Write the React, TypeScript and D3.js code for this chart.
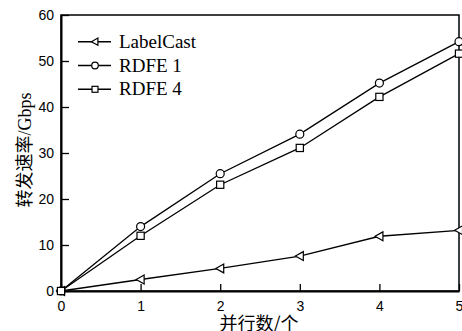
import { useEffect, useRef } from "react";
import * as d3 from "d3";

const WIDTH = 462;
const HEIGHT = 331;
const MARGIN = { top: 15, right: 3, bottom: 40, left: 61 };

const parallel = [0, 1, 2, 3, 4, 5];
const labelCast = [0, 2.5, 4.9, 7.6, 11.9, 13.2];
const rdfe1 = [0, 14.0, 25.5, 34.1, 45.2, 54.2];
const rdfe4 = [0, 12.0, 23.1, 31.1, 42.2, 51.6];
const yTicks = [0, 10, 20, 30, 40, 50, 60];

const SERIES = [
  { name: "LabelCast", values: labelCast, marker: "triangle" },
  { name: "RDFE 1", values: rdfe1, marker: "circle" },
  { name: "RDFE 4", values: rdfe4, marker: "square" }
];

function drawMarker(g: any, kind: string, cx: number, cy: number, size: number) {
  if (kind === "circle") {
    g.append("circle").attr("cx", cx).attr("cy", cy).attr("r", size)
      .attr("fill", "#fff").attr("stroke", "#000").attr("stroke-width", 1.2);
  } else if (kind === "square") {
    const h = size * 0.9;
    g.append("rect").attr("x", cx - h).attr("y", cy - h).attr("width", h * 2).attr("height", h * 2)
      .attr("fill", "#fff").attr("stroke", "#000").attr("stroke-width", 1.2);
  } else {
    const s = size * 1.1;
    g.append("path")
      .attr("d", `M${cx - s},${cy} L${cx + s * 0.8},${cy - s} L${cx + s * 0.8},${cy + s} Z`)
      .attr("fill", "#fff").attr("stroke", "#000").attr("stroke-width", 1.2);
  }
}

export default function App() {
  const svgRef = useRef<SVGSVGElement>(null);

  useEffect(() => {
    document.body.style.margin = "0";
    const svg = d3.select(svgRef.current);
    svg.selectAll("*").remove();

    const innerW = WIDTH - MARGIN.left - MARGIN.right;
    const innerH = HEIGHT - MARGIN.top - MARGIN.bottom;
    const x = d3.scaleLinear().domain([0, 5]).range([MARGIN.left, MARGIN.left + innerW]);
    const y = d3.scaleLinear().domain([0, 60]).range([MARGIN.top + innerH, MARGIN.top]);

    svg.append("rect").attr("width", WIDTH).attr("height", HEIGHT).attr("fill", "#fff");

    // frame
    svg.append("rect")
      .attr("x", MARGIN.left).attr("y", MARGIN.top)
      .attr("width", innerW).attr("height", innerH)
      .attr("fill", "none").attr("stroke", "#000").attr("stroke-width", 1.5);

    // axes with inward ticks
    svg.append("g")
      .attr("transform", `translate(0, ${MARGIN.top + innerH})`)
      .call(d3.axisBottom(x).tickValues(parallel).tickSizeInner(-7).tickSizeOuter(0).tickPadding(10).tickFormat(d3.format("d")))
      .call((g) => g.select(".domain").attr("stroke-width", 2))
      .call((g) => g.selectAll("line").attr("stroke-width", 1.3))
      .call((g) => g.selectAll("text").attr("font-family", "'Liberation Sans', Arial, sans-serif").attr("font-size", 14).attr("fill", "#000"));

    svg.append("g")
      .attr("transform", `translate(${MARGIN.left}, 0)`)
      .call(d3.axisLeft(y).tickValues(yTicks).tickSizeInner(-8).tickSizeOuter(0).tickPadding(7))
      .call((g) => g.select(".domain").attr("stroke-width", 2))
      .call((g) => g.selectAll("line").attr("stroke-width", 1.3))
      .call((g) => g.selectAll("text").attr("font-family", "'Liberation Sans', Arial, sans-serif").attr("font-size", 14).attr("fill", "#000"));

    const line = d3.line<number>().x((_, i) => x(parallel[i])).y((d) => y(d));

    SERIES.forEach((s) => {
      svg.append("path").datum(s.values).attr("d", line)
        .attr("fill", "none").attr("stroke", "#000").attr("stroke-width", 1.3);
    });
    SERIES.forEach((s) => {
      const g = svg.append("g");
      s.values.forEach((v, i) => drawMarker(g, s.marker, x(parallel[i]), y(v), 4));
    });

    // legend
    SERIES.forEach((s, i) => {
      const ly = 41.7 + i * 23.8;
      const g = svg.append("g");
      g.append("line").attr("x1", 78).attr("x2", 111).attr("y1", ly).attr("y2", ly)
        .attr("stroke", "#000").attr("stroke-width", 1.4);
      drawMarker(g, s.marker, 95, ly, 3.3);
      g.append("text").attr("x", 119).attr("y", ly + 6)
        .attr("font-family", "'Liberation Serif', 'Times New Roman', serif")
        .attr("font-size", 19).attr("fill", "#000")
        .text(s.name);
    });

    svg.append("text")
      .attr("transform", `translate(31, 150) rotate(-90)`)
      .attr("text-anchor", "middle")
      .attr("font-family", "'Liberation Serif', 'Noto Sans CJK SC', serif")
      .attr("font-size", 18).attr("fill", "#000")
      .text("转发速率/Gbps");

    svg.append("text")
      .attr("x", 259).attr("y", 330)
      .attr("text-anchor", "middle")
      .attr("font-family", "'Noto Sans CJK SC', sans-serif")
      .attr("font-size", 18).attr("fill", "#000")
      .text("并行数/个");
  }, []);

  return <svg ref={svgRef} width={WIDTH} height={HEIGHT} style={{ display: "block" }} />;
}
